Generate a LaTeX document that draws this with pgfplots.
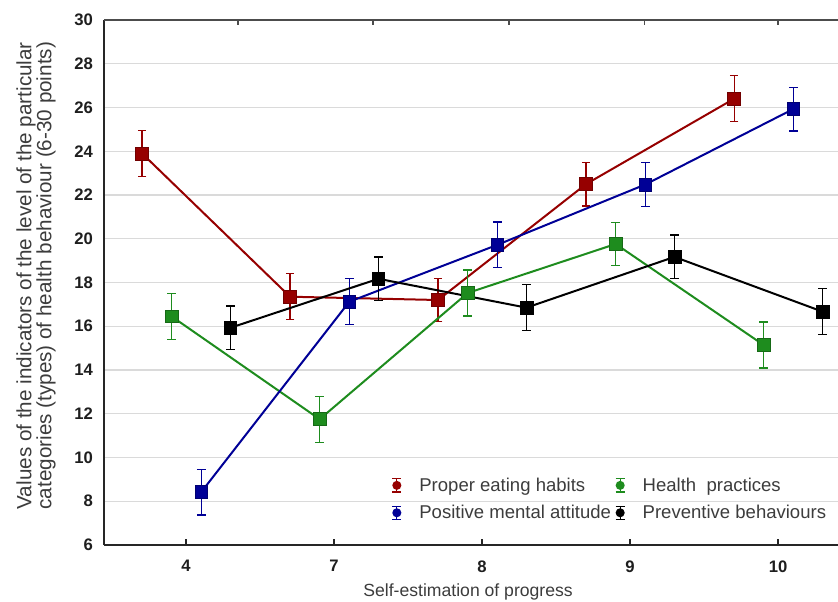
\documentclass[border=0pt]{standalone}
\usepackage{fontspec}
\setmainfont{Liberation Sans}
\usepackage{pgfplots}
\usepackage{pgfplotstable}
\pgfplotsset{compat=1.18}

\definecolor{eatred}{RGB}{150,0,0}
\definecolor{mentblue}{RGB}{0,0,150}
\definecolor{hpgreen}{RGB}{30,140,30}
\definecolor{gridgray}{RGB}{218,218,218}
\definecolor{labelgray}{RGB}{60,60,60}
\definecolor{tickgray}{RGB}{30,30,30}

% idx: position of the self-estimation category (4, 7, 8, 9, 10)
\pgfplotstableread{
idx mean err
0 23.90 1.05
1 17.35 1.05
2 17.20 1.00
3 22.50 1.00
4 26.40 1.05
}\eating
\pgfplotstableread{
idx mean err
0 16.45 1.05
1 11.75 1.05
2 17.52 1.05
3 19.76 1.00
4 15.14 1.05
}\practices
\pgfplotstableread{
idx mean err
0 8.42 1.05
1 17.12 1.05
2 19.72 1.05
3 22.48 1.00
4 25.93 1.00
}\mental
\pgfplotstableread{
idx mean err
0 15.93 1.00
1 18.17 1.00
2 16.85 1.05
3 19.17 1.00
4 16.67 1.05
}\preventive

\pgfplotsset{
  meanplot/.style={
    line width=1.5pt,
    mark=square*,
    mark size=4.8pt,
    mark options={solid, fill=#1, draw=#1!75!black, line width=0.5pt},
    color=#1,
    error bars/y dir=both,
    error bars/y explicit,
    error bars/error bar style={line width=0.9pt, solid},
    error bars/error mark options={rotate=90, mark size=3.2pt, line width=0.9pt, solid},
    legend image code/.code={
      \draw[line width=0.8pt] (0pt,-5pt) -- (0pt,5pt);
      \draw[line width=0.8pt] (-3.5pt,5pt) -- (3.5pt,5pt);
      \draw[line width=0.8pt] (-3.5pt,-5pt) -- (3.5pt,-5pt);
      \fill (0pt,0pt) circle (2.6pt);
    },
  },
}

\begin{document}
\begin{tikzpicture}
\path[use as bounding box] (-78pt,-42pt) rectangle (550.5pt,408.75pt);
\clip (-78pt,-42pt) rectangle (550.5pt,408.75pt);

\begin{axis}[
  at={(0pt,0pt)}, anchor=south west,
  scale only axis,
  width=550.5pt, height=393.75pt,
  xmin=-0.554, xmax=4.405,
  ymin=6, ymax=30,
  axis x line*=bottom,
  axis y line*=left,
  axis line style={line width=1.2pt, black!85},
  xtick={0,1,2,3,4},
  xticklabels={4,7,8,9,10},
  ytick={6,8,...,30},
  xtick align=inside,
  major tick length=4.5pt,
  tick style={line width=1pt, black!85},
  ytick style={draw=none},
  ymajorgrids,
  grid style={gridgray, line width=1.1pt},
  /pgf/number format/assume math mode=true,
  ticklabel style={font=\bfseries\fontsize{12.5}{14}\selectfont, text=tickgray},
  xticklabel style={yshift=-8pt},
  yticklabel style={xshift=-4.8pt},
  xlabel={Self-estimation of progress},
  xlabel style={at={(axis description cs:0.496,-0.0895)}, anchor=center,
    font=\fontsize{13.2}{15}\selectfont, text=labelgray},
  ylabel={Values of the indicators of the level of the particular\\categories (types) of health behaviour (6-30 points)},
  ylabel style={at={(axis description cs:-0.0926,0.513)}, anchor=center,
    align=center, font=\fontsize{15.5}{15}\selectfont, text=labelgray},
  legend columns=2,
  legend cell align=left,
  legend style={at={(axis description cs:0.3915,0.0875)}, anchor=west,
    draw=none, fill=none, inner sep=0pt,
    font=\fontsize{13.9}{16}\selectfont, text=labelgray,
    row sep=5pt,
    /tikz/every odd column/.append style={column sep=11pt},
    /tikz/every even column/.append style={column sep=1pt}},
]
\addplot[meanplot=eatred]
  table[x expr=\thisrow{idx}-0.297, y=mean, y error=err] {\eating};
\addlegendentry{Proper eating habits}
\addplot[meanplot=hpgreen]
  table[x expr=\thisrow{idx}-0.097, y=mean, y error=err] {\practices};
\addlegendentry{Health~~practices}
\addplot[meanplot=mentblue]
  table[x expr=\thisrow{idx}+0.103, y=mean, y error=err] {\mental};
\addlegendentry{Positive mental attitude}
\addplot[meanplot=black]
  table[x expr=\thisrow{idx}+0.300, y=mean, y error=err] {\preventive};
\addlegendentry{Preventive behaviours}
\end{axis}

% top frame line with its own tick positions
\begin{axis}[
  at={(0pt,0pt)}, anchor=south west,
  scale only axis,
  width=550.5pt, height=393.75pt,
  xmin=-0.554, xmax=4.405,
  ymin=6, ymax=30,
  axis x line*=top,
  axis y line=none,
  axis line style={line width=1.1pt, black!70},
  xtick={0.351,1.264,2.182,3.095,4.0},
  xticklabels={},
  ytick=\empty,
  xtick align=inside,
  major tick length=3.5pt,
  tick style={line width=0.9pt, black!70},
]
\end{axis}
\end{tikzpicture}
\end{document}
